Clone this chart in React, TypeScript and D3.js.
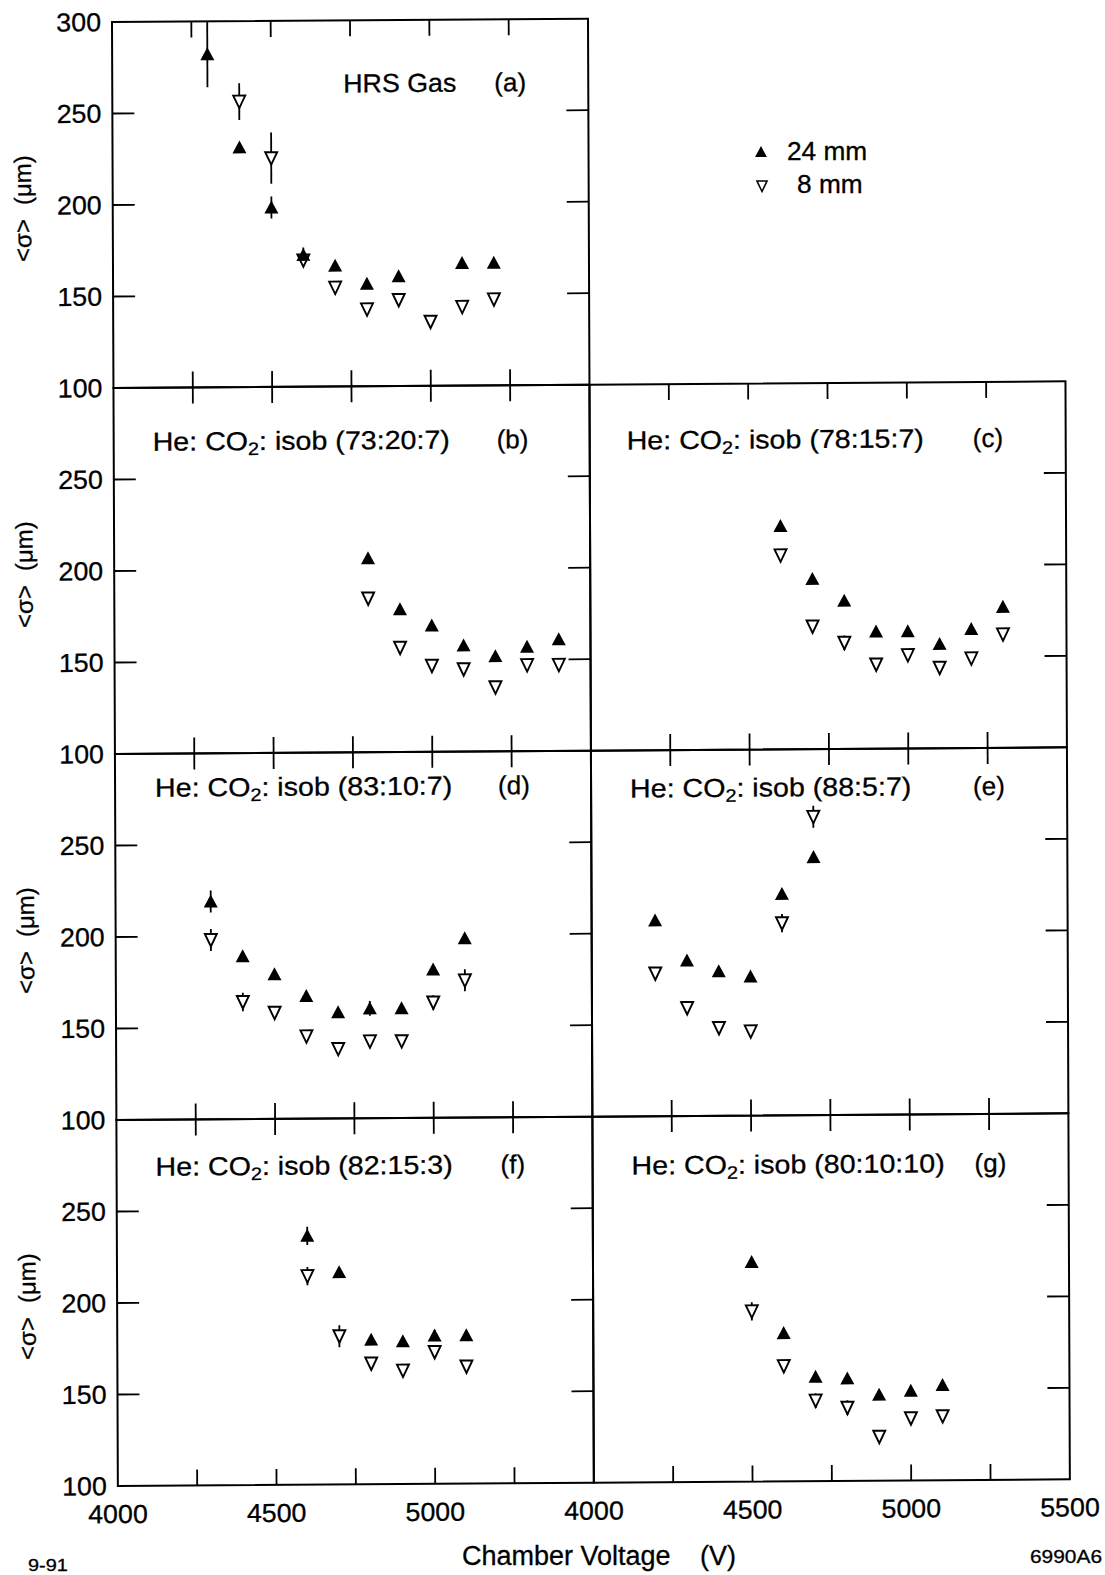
import React from 'react';
import * as d3 from 'd3';

// <sigma> (um) vs chamber voltage (V); 24 mm = filled up-triangles, 8 mm = open down-triangles
const voltsA24 = [4300, 4400, 4500, 4600, 4700, 4800, 4900, 5100, 5200];
const sigmaA24 = [282, 231, 198, 172, 166, 156, 160, 167, 167];
const errA24 = [18, 0, 6, 4, 0, 0, 0, 0, 0];
const voltsA8 = [4400, 4500, 4600, 4700, 4800, 4900, 5000, 5100, 5200];
const sigmaA8 = [256, 225, 169, 154, 142, 147, 135, 143, 147];
const errA8 = [10, 14, 3, 0, 0, 0, 0, 0, 0];

const voltsB = [4800, 4900, 5000, 5100, 5200, 5300, 5400];
const sigmaB24 = [206, 178, 169, 158, 152, 157, 161];
const sigmaB8 = [184, 157, 147, 145, 135, 147, 147];

const voltsC = [4600, 4700, 4800, 4900, 5000, 5100, 5200, 5300];
const sigmaC24 = [222, 193, 181, 164, 164, 157, 165, 177];
const sigmaC8 = [206, 167, 158, 146, 151, 144, 149, 162];
const errC8 = [0, 0, 4, 0, 0, 0, 3, 0];

const voltsD = [4300, 4400, 4500, 4600, 4700, 4800, 4900, 5000, 5100];
const sigmaD24 = [219, 189, 179, 167, 158, 160, 160, 181, 198];
const errD24 = [6, 0, 0, 0, 0, 4, 0, 0, 0];
const sigmaD8 = [198, 164, 158, 145, 138, 142, 142, 163, 175];
const errD8 = [6, 5, 0, 0, 0, 0, 0, 4, 6];

const voltsE = [4200, 4300, 4400, 4500, 4600, 4700];
const sigmaE24 = [207, 185, 179, 176, 221, 241];
const sigmaE8 = [178, 159, 148, 146, 205, 263];
const errE8 = [0, 0, 0, 0, 5, 6];

const voltsF = [4600, 4700, 4800, 4900, 5000, 5100];
const sigmaF24 = [236, 216, 179, 178, 181, 181];
const errF24 = [5, 0, 0, 0, 3, 0];
const sigmaF8 = [214, 181, 166, 162, 172, 164];
const errF8 = [5, 6, 0, 3, 0, 0];

const voltsG = [4500, 4600, 4700, 4800, 4900, 5000, 5100];
const sigmaG24 = [220, 181, 157, 156, 147, 149, 152];
const sigmaG8 = [193, 163, 144, 140, 124, 134, 135];
const errG8 = [5, 0, 4, 4, 0, 0, 0];

const xTicks = [4250, 4500, 4750, 5000, 5250];
const yTicks = [150, 200, 250];
const yLabelsTop = [100, 150, 200, 250, 300];
const yLabels = [100, 150, 200, 250];
const xLabelsLeft = [4000, 4500, 5000];
const xLabelsRight = [4000, 4500, 5000, 5500];

const panels = [
    { key: 'a', col: 0, row: 0, title: 'HRS Gas', mix: null, tag: '(a)', v24: voltsA24, s24: sigmaA24, e24: errA24, v8: voltsA8, s8: sigmaA8, e8: errA8 },
    { key: 'b', col: 0, row: 1, mix: '73:20:7', tag: '(b)', v24: voltsB, s24: sigmaB24, e24: [], v8: voltsB, s8: sigmaB8, e8: [] },
    { key: 'c', col: 1, row: 1, mix: '78:15:7', tag: '(c)', v24: voltsC, s24: sigmaC24, e24: [], v8: voltsC, s8: sigmaC8, e8: errC8 },
    { key: 'd', col: 0, row: 2, mix: '83:10:7', tag: '(d)', v24: voltsD, s24: sigmaD24, e24: errD24, v8: voltsD, s8: sigmaD8, e8: errD8 },
    { key: 'e', col: 1, row: 2, mix: '88:5:7', tag: '(e)', v24: voltsE, s24: sigmaE24, e24: [], v8: voltsE, s8: sigmaE8, e8: errE8 },
    { key: 'f', col: 0, row: 3, mix: '82:15:3', tag: '(f)', v24: voltsF, s24: sigmaF24, e24: errF24, v8: voltsF, s8: sigmaF8, e8: errF8 },
    { key: 'g', col: 1, row: 3, mix: '80:10:10', tag: '(g)', v24: voltsG, s24: sigmaG24, e24: [], v8: voltsG, s8: sigmaG8, e8: errG8 },
];

// title placement inside each panel (offset from panel left / top)
const titlePos = {
    a: { dx: 231, tagDx: 382, dy: 72 },
    b: { dx: 39, tagDx: 383, dy: 63 },
    c: { dx: 37, tagDx: 383, dy: 65 },
    d: { dx: 40, tagDx: 383, dy: 43 },
    e: { dx: 39, tagDx: 382, dy: 47 },
    f: { dx: 39, tagDx: 384, dy: 56 },
    g: { dx: 39, tagDx: 382, dy: 58 },
};

const FONT = "'Liberation Sans', Arial, Helvetica, sans-serif";
const COL_X = [112, 588];
const ROW_Y = [22, 388, 754, 1120];
const PW = 476;
const PH = 366;
const TICK_X = 16;
const TICK_Y = 22;

const UP = 'M0,-7L7,6L-7,6Z';
const DOWN = 'M-6,-6L6,-6L0,6.5Z';

const SText = ({ x, y, sx = 1.03, size = 26, anchor = 'start', children }) => (
    <text
        transform={`translate(${x},${y}) scale(${sx},1)`}
        fontSize={size}
        textAnchor={anchor}
        fill="#000"
        stroke="#000"
        strokeWidth={0.3}
    >
        {children}
    </text>
);

const Panel = ({ p }) => {
    const left = COL_X[p.col];
    const top = ROW_Y[p.row];
    const bottom = top + PH;
    const x = d3.scaleLinear().domain([4000, 5500]).range([left, left + PW]);
    const y = d3.scaleLinear().domain([100, 300]).range([bottom, top]);
    const pts24 = p.v24.map((v, i) => ({ v, s: p.s24[i], e: p.e24[i] || 0 }));
    const pts8 = p.v8.map((v, i) => ({ v, s: p.s8[i], e: p.e8[i] || 0 }));
    const tp = titlePos[p.key];
    const isLeft = p.col === 0;
    const isBottom = p.row === 3;

    return (
        <g>
            <rect x={left} y={top} width={PW} height={PH} fill="none" stroke="#000" strokeWidth={2} />
            {xTicks.map(t => (
                <g key={'x' + t} stroke="#000" strokeWidth={1.8}>
                    <line x1={x(t)} x2={x(t)} y1={top} y2={top + TICK_X} />
                    <line x1={x(t)} x2={x(t)} y1={bottom} y2={bottom - TICK_X} />
                </g>
            ))}
            {yTicks.map(t => (
                <g key={'y' + t} stroke="#000" strokeWidth={1.8}>
                    {isLeft && <line x1={left} x2={left + TICK_Y} y1={y(t)} y2={y(t)} />}
                    <line x1={left + PW} x2={left + PW - TICK_Y} y1={y(t)} y2={y(t)} />
                </g>
            ))}

            {isLeft && (p.row === 0 ? yLabelsTop : yLabels).map(t => (
                <SText key={'yl' + t} x={left - 11} y={y(t) + 9} anchor="end">{t}</SText>
            ))}
            {isLeft && (
                <text
                    transform={`translate(22,${top + PH / 2 + 3}) rotate(-90)`}
                    textAnchor="middle"
                    dy="0.35em"
                    fontSize={24}
                    stroke="#000"
                    strokeWidth={0.3}
                >
                    {'<σ>'}
                    <tspan dx={14}>(μm)</tspan>
                </text>
            )}
            {isBottom && (isLeft ? xLabelsLeft : xLabelsRight).map(t => (
                <SText key={'xl' + t} x={x(t)} y={bottom + 37} anchor="middle">{t}</SText>
            ))}

            {p.mix ? (
                <SText x={left + tp.dx} y={top + tp.dy} sx={1.1}>
                    He: CO
                    <tspan fontSize={18} dy={5}>2</tspan>
                    <tspan dy={-5}>: isob ({p.mix})</tspan>
                </SText>
            ) : (
                <SText x={left + tp.dx} y={top + tp.dy}>{p.title}</SText>
            )}
            <SText x={left + tp.tagDx} y={top + tp.dy} sx={1.0}>{p.tag}</SText>

            {pts8.concat(pts24).filter(d => d.e > 0).map((d, i) => (
                <line key={'e' + i} x1={x(d.v)} x2={x(d.v)} y1={y(d.s - d.e)} y2={y(d.s + d.e)} stroke="#000" strokeWidth={1.8} />
            ))}
            {pts8.map((d, i) => (
                <path key={'o' + i} d={DOWN} transform={`translate(${x(d.v)},${y(d.s)})`} fill="#fff" stroke="#000" strokeWidth={1.9} />
            ))}
            {pts24.map((d, i) => (
                <path key={'f' + i} d={UP} transform={`translate(${x(d.v)},${y(d.s)})`} fill="#000" />
            ))}
        </g>
    );
};

export default function App() {
    return (
        <svg
            width={1105}
            height={1575}
            style={{ position: 'absolute', left: 0, top: 0, background: '#fff' }}
            fontFamily={FONT}
        >
            <rect width={1105} height={1575} fill="#fff" />
            {/* the scan is slightly tilted, so the frame is sheared a little */}
            <g transform="matrix(1,-0.007,0.004,1,-0.09,0.78)">
                {panels.map(p => <Panel key={p.key} p={p} />)}
            </g>

            <g>
                <path d={UP} transform="translate(761,152) scale(0.85)" fill="#000" />
                <SText x={787} y={160} size={25} sx={1.05}>24 mm</SText>
                <path d={DOWN} transform="translate(762,186) scale(0.85)" fill="#fff" stroke="#000" strokeWidth={1.8} />
                <SText x={797} y={193} size={25} sx={1.05}>8 mm</SText>
            </g>

            <SText x={462} y={1565} size={27} sx={1.0}>Chamber Voltage</SText>
            <SText x={700} y={1565} size={27} sx={1.0}>(V)</SText>
            <SText x={28} y={1571} size={17} sx={1.17}>9-91</SText>
            <SText x={1030} y={1563} size={19} sx={1.1}>6990A6</SText>
        </svg>
    );
}
